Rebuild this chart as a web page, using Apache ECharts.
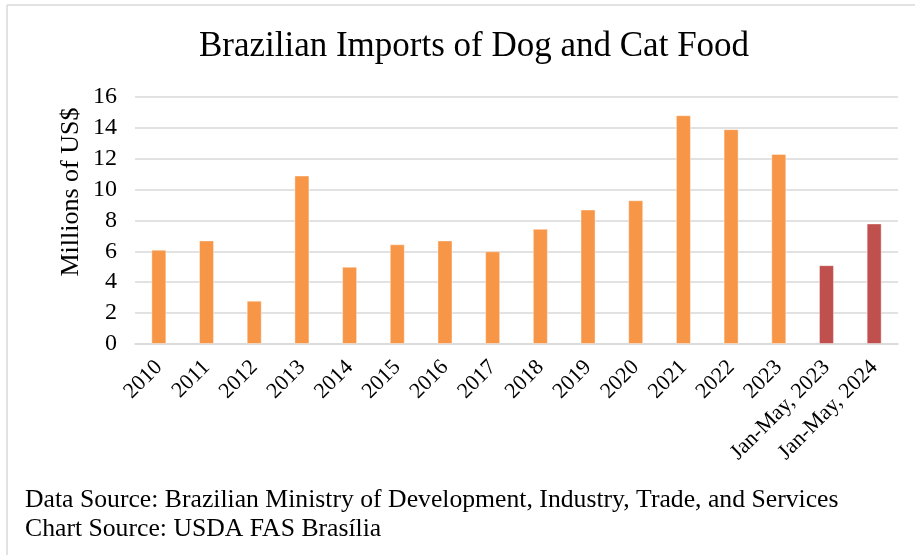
<!DOCTYPE html>
<html><head><meta charset="utf-8">
<script src="https://cdn.jsdelivr.net/npm/echarts@6/dist/echarts.min.js"></script>
<style>html,body{margin:0;padding:0;background:#fff}#c{width:915px;height:555px}</style>
</head><body><div id="c"></div>
<script>
const categories = ['2010','2011','2012','2013','2014','2015','2016','2017','2018','2019','2020','2021','2022','2023','Jan-May, 2023','Jan-May, 2024'];
const values = [6.1, 6.7, 2.8, 10.9, 5.0, 6.45, 6.7, 6.0, 7.45, 8.7, 9.3, 14.8, 13.9, 12.3, 5.1, 7.8];
const yTicks = [0, 2, 4, 6, 8, 10, 12, 14, 16];
const titleText = 'Brazilian Imports of Dog and Cat Food';
const yAxisName = 'Millions of US$';
const sourceLines = ['Data Source: Brazilian Ministry of Development, Industry, Trade, and Services', 'Chart Source: USDA FAS Brasília'];

const serif = '"Liberation Serif", "Times New Roman", serif';
const chart = echarts.init(document.getElementById('c'), null, {renderer: 'canvas'});
chart.setOption({
  backgroundColor: '#fff',
  animation: false,
  title: {
    text: titleText, left: 469, top: 24, textAlign: 'center',
    textStyle: {fontFamily: serif, fontWeight: 'normal', fontSize: 35, color: '#000'}
  },
  graphic: [
    {type: 'line', shape: {x1: 7, y1: 5, x2: 915, y2: 5}, style: {stroke: '#d9d9d9', lineWidth: 1.5}},
    {type: 'line', shape: {x1: 7, y1: 5, x2: 7, y2: 555}, style: {stroke: '#d9d9d9', lineWidth: 1.5}},
    {type: 'text', x: 71, y: 192, rotation: Math.PI / 2,
      style: {text: yAxisName, font: '26px ' + serif, fill: '#000', align: 'center', verticalAlign: 'middle'}},
    {type: 'text', left: 25, top: 487, style: {text: sourceLines[0], font: '25.7px ' + serif, fill: '#000'}},
    {type: 'text', left: 25, top: 516, style: {text: sourceLines[1], font: '25.7px ' + serif, fill: '#000'}}
  ],
  grid: {left: 135, right: 17, top: 96.7, bottom: 211, containLabel: false},
  xAxis: {
    type: 'category', data: categories,
    axisLine: {lineStyle: {color: '#d9d9d9', width: 1.5}},
    axisTick: {show: false},
    axisLabel: {rotate: 45, interval: 0, fontFamily: serif, fontSize: 22, color: '#000', margin: 20}
  },
  yAxis: {
    type: 'value', min: yTicks[0], max: yTicks[yTicks.length - 1], interval: 2,
    axisLine: {show: false}, axisTick: {show: false},
    axisLabel: {fontFamily: serif, fontSize: 24, color: '#000', margin: 18},
    splitLine: {lineStyle: {color: '#d9d9d9', width: 1.5}}
  },
  series: [{
    type: 'bar', data: values, barWidth: 15,
    itemStyle: {
      color: p => categories[p.dataIndex].startsWith('Jan') ? '#C0504D' : '#F79646',
      borderColor: 'rgba(255,255,255,0.4)', borderWidth: 1
    }
  }]
});
</script></body></html>
